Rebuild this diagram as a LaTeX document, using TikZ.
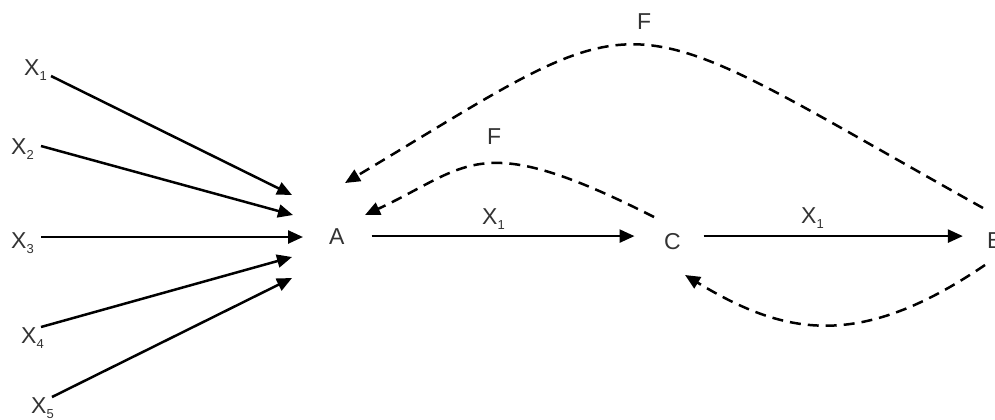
\documentclass[tikz,border=0pt]{standalone}
\usepackage{fontspec}
\setmainfont{Liberation Sans}
\usetikzlibrary{arrows.meta}
\newcommand{\xsub}[1]{X\raisebox{-5.5bp}{\fontsize{13bp}{13bp}\selectfont #1}}
\begin{document}
\begin{tikzpicture}[x=1bp,y=-1bp,
  lbl/.style={inner sep=0pt, text=black!80, font=\fontsize{23bp}{25bp}\selectfont, anchor=base west},
  arr/.style={line width=2.5bp, -{Triangle[length=15bp,width=13bp]}},
  darr/.style={arr, dash pattern=on 11bp off 7bp}]
\useasboundingbox (0,0) rectangle (995,419);
\clip (0,0) rectangle (995,419);
% labels
\node[lbl] (x1) at (24,75) {\xsub{1}};
\node[lbl] (x2) at (11,154) {\xsub{2}};
\node[lbl] (x3) at (11,248) {\xsub{3}};
\node[lbl] (x4) at (21,343) {\xsub{4}};
\node[lbl] (x5) at (31,413) {\xsub{5}};
\node[lbl] (A) at (329,244) {A};
\node[lbl] (C) at (664,249) {C};
\node[lbl] (B) at (987,248) {B};
\node[lbl] (lac) at (482,224) {\xsub{1}};
\node[lbl] (lcb) at (801,223) {\xsub{1}};
\node[lbl] (f1) at (637,29) {F};
\node[lbl] (f2) at (487,144) {F};
% input arrows
\coordinate (s1) at (51,76);  \coordinate (t1) at (292,195);
\coordinate (s2) at (41,146); \coordinate (t2) at (293,215);
\coordinate (s3) at (41,237); \coordinate (t3) at (303,237);
\coordinate (s4) at (41,327); \coordinate (t4) at (292,257);
\coordinate (s5) at (52,397); \coordinate (t5) at (292,278);
\foreach \i in {1,...,5} \draw[arr] (s\i) -- (t\i);
% main flow
\draw[arr, shorten <=27bp, shorten >=38bp] (A) -- (A -| C);
\draw[arr, shorten <=31bp, shorten >=32bp] (C |- A) -- (B |- A);
% feedback
\coordinate (e1) at (983,208); \coordinate (a1) at (345,183);
\coordinate (e2) at (654,217); \coordinate (a2) at (365,215);
\coordinate (e3) at (985,265); \coordinate (a3) at (685,275);
\draw[darr] (e1) .. controls (605,-3) and (661,-6) .. (a1);
\draw[darr] (e2) .. controls (478,128) and (470,166) .. (a2);
\draw[darr] (e3) .. controls (861,349) and (787,337) .. (a3);
\end{tikzpicture}
\end{document}
